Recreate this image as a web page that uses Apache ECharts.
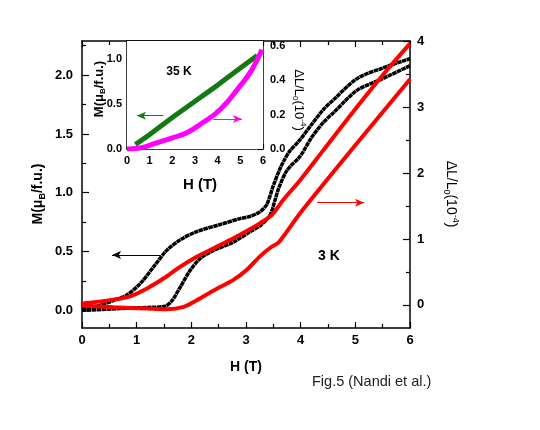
<!DOCTYPE html>
<html>
<head>
<meta charset="utf-8">
<script src="https://cdn.jsdelivr.net/npm/echarts@6.0.0/dist/echarts.min.js"></script>
<style>html,body{margin:0;padding:0;background:#fff}#chart{width:540px;height:430px}</style>
</head>
<body>
<div id="chart"></div>
<script>
// main panel, 3 K : magnetisation (left axis) and magnetostriction (right axis)
var blackDown = [[0,0.015],[0.3,0.04],[0.58,0.085],[0.82,0.13],[1.07,0.23],[1.31,0.37],[1.55,0.51],[1.8,0.6],[2.1,0.67],[2.53,0.73],[2.89,0.78],[3.08,0.8],[3.26,0.84],[3.38,0.9],[3.5,1.06],[3.6,1.18],[3.69,1.27],[3.81,1.36],[3.97,1.44],[4.2,1.58],[4.42,1.71],[4.6,1.79],[5.03,1.97],[5.5,2.06],[6,2.14]];
var blackUp = [[0,0.0],[0.5,0.01],[0.88,0.02],[1.2,0.025],[1.52,0.035],[1.65,0.085],[1.8,0.2],[1.98,0.34],[2.16,0.44],[2.41,0.51],[2.77,0.58],[3.08,0.67],[3.26,0.72],[3.44,0.81],[3.52,0.92],[3.6,1.04],[3.75,1.19],[3.99,1.31],[4.2,1.47],[4.42,1.6],[4.6,1.68],[5.03,1.87],[5.5,1.97],[6,2.08]];
var redDown = [[0,0.02],[0.58,0.08],[0.88,0.13],[1.19,0.25],[1.49,0.4],[1.8,0.58],[2.1,0.73],[2.41,0.86],[2.77,1.01],[3.08,1.15],[3.26,1.24],[3.47,1.36],[3.69,1.6],[3.99,1.89],[4.42,2.35],[5.03,3.0],[5.58,3.56],[6,3.96]];
var redUp = [[0,-0.01],[0.58,-0.035],[1.19,-0.055],[1.55,-0.065],[1.86,-0.03],[2.1,0.07],[2.41,0.22],[2.77,0.38],[3.0,0.52],[3.26,0.74],[3.45,0.87],[3.6,0.95],[3.99,1.39],[5.03,2.45],[6,3.42]];
// inset, 35 K
var greenM = [[0.37,0.05],[1,0.16],[2,0.35],[3,0.53],[4,0.71],[5,0.9],[5.75,1.04]];
var magentaL = [[0,0.0],[0.5,0.004],[1.17,0.03],[2,0.065],[2.64,0.095],[3.3,0.15],[4.11,0.23],[5,0.37],[5.5,0.46],[5.95,0.58]];

// tick labels
var mTicks = [0, 0.5, 1.0, 1.5, 2.0];
var mMinor = [0.25, 0.75, 1.25, 1.75, 2.25];
var dlTicks = [0, 1, 2, 3, 4];
var dlMinor = [0.5, 1.5, 2.5, 3.5];
var insMTicks = [0, 0.5, 1.0];
var insMMinor = [0, 0.25, 0.5, 0.75, 1.0];
var insLTicks = [0, 0.2, 0.4, 0.6];
var insLMinor = [0, 0.1, 0.2, 0.3, 0.4, 0.5, 0.6];

// arrows (data coords)
var arrowBlack = [[1.43,0.47],[0.55,0.47]];
var arrowRed = [[4.3,1.55],[5.16,1.55]];
var arrowGreen = [[1.6,0.37],[0.44,0.37]];
var arrowMagenta = [[3.8,0.175],[5.07,0.175]];

var FONT = 'Liberation Sans, Arial, sans-serif';

function xAx(g, pos, labels, fs, tl){
    return {
        gridIndex: g, type: 'value', position: pos, min: 0, max: 6, interval: 1,
        axisLine: {show: true, onZero: false, lineStyle: {color: '#000', width: 1.5}},
        axisTick: {show: true, inside: true, length: tl, lineStyle: {color: '#000', width: 1.2}},
        minorTick: {show: true, splitNumber: 2, length: tl - 2, lineStyle: {color: '#000', width: 1.2}},
        axisLabel: {show: labels, color: '#000', fontFamily: FONT, fontWeight: 'bold', fontSize: fs, margin: 6},
        splitLine: {show: false}
    };
}
function yAx(g, pos, mn, mx, labs, ticks, fs, tl, showLine, dec, margin){
    return {
        gridIndex: g, type: 'value', position: pos, min: mn, max: mx,
        axisLine: {show: showLine, onZero: false, lineStyle: {color: '#000', width: 1.5}},
        axisTick: {show: true, inside: true, length: tl, customValues: ticks, lineStyle: {color: '#000', width: 1.2}},
        axisLabel: {show: labs != null, customValues: labs || [], color: '#000', fontFamily: FONT, fontWeight: 'bold', fontSize: fs, margin: margin,
            formatter: function(v){ return v.toFixed(dec); }},
        splitLine: {show: false}
    };
}
function arrow(pts, color){
    return {
        silent: true, animation: false, symbol: ['none', 'arrow'], symbolSize: [6, 9],
        lineStyle: {color: color, width: 1, type: 'solid'}, label: {show: false},
        data: [[{coord: pts[0]}, {coord: pts[1]}]]
    };
}

var chart = echarts.init(document.getElementById('chart'));
var option = {
    animation: false,
    backgroundColor: '#fff',
    grid: [
        {left: 82, right: 130, top: 41, bottom: 102},
        {left: 127, right: 277, top: 41, bottom: 281, show: true, backgroundColor: '#fff', borderWidth: 0, z: 3}
    ],
    xAxis: [
        xAx(0, 'bottom', true, 13, 6),
        xAx(0, 'top', false, 13, 6),
        xAx(1, 'bottom', true, 11, 5),
        xAx(1, 'top', false, 11, 5)
    ],
    yAxis: [
        yAx(0, 'left', -0.15, 2.29, mTicks, mTicks, 13, 7, true, 1, 9),
        yAx(0, 'right', -0.35, 4, dlTicks, dlTicks, 13, 7, true, 0, 7),
        yAx(0, 'left', -0.15, 2.29, null, mMinor, 13, 4, false, 1, 9),
        yAx(0, 'right', -0.35, 4, null, dlMinor, 13, 4, false, 0, 7),
        yAx(1, 'left', 0, 1.2, insMTicks, insMMinor, 11, 5, true, 1, 5),
        yAx(1, 'right', 0, 0.63, insLTicks, insLMinor, 11, 5, true, 1, 7)
    ],
    series: [
        {type: 'line', name: 'M down', xAxisIndex: 0, yAxisIndex: 0, data: blackDown, smooth: 0.3, showSymbol: false,
            lineStyle: {color: '#000', width: 3.5, type: [4.5, 0.5]}, markLine: arrow(arrowBlack, '#000')},
        {type: 'line', name: 'M up', xAxisIndex: 0, yAxisIndex: 0, data: blackUp, smooth: 0.3, showSymbol: false,
            lineStyle: {color: '#000', width: 3.5, type: [4.5, 0.5]}},
        {type: 'line', name: 'dL down', xAxisIndex: 0, yAxisIndex: 1, data: redDown, smooth: 0.3, showSymbol: false,
            lineStyle: {color: '#ff0000', width: 4}, markLine: arrow(arrowRed, '#ff0000')},
        {type: 'line', name: 'dL up', xAxisIndex: 0, yAxisIndex: 1, data: redUp, smooth: 0.3, showSymbol: false,
            lineStyle: {color: '#ff0000', width: 4}},
        {type: 'line', name: 'M 35K', xAxisIndex: 2, yAxisIndex: 4, data: greenM, showSymbol: false, z: 5,
            lineStyle: {color: '#137a13', width: 5}, markLine: arrow(arrowGreen, '#137a13')},
        {type: 'line', name: 'dL 35K', xAxisIndex: 2, yAxisIndex: 5, data: magentaL, smooth: 0.5, showSymbol: false, z: 5,
            lineStyle: {color: '#ff00ff', width: 5}, markLine: arrow(arrowMagenta, '#ff00ff')}
    ],
    graphic: [
        {type: 'text', x: 246, y: 367, style: {text: 'H (T)', fontFamily: FONT, fontWeight: 'bold', fontSize: 14, fill: '#000', align: 'center', verticalAlign: 'middle'}},
        {type: 'text', x: 38, y: 194, rotation: Math.PI / 2, style: {text: 'M(μ{s|B}/f.u.)', fontFamily: FONT, fontWeight: 'bold', fontSize: 14, fill: '#000', align: 'center', verticalAlign: 'middle',
            rich: {s: {fontFamily: FONT, fontWeight: 'bold', fontSize: 9, padding: [9, 0, 0, 0]}}}},
        {type: 'text', x: 451, y: 194, rotation: -Math.PI / 2, style: {text: 'ΔL/L{s|0}(10{p|-4})', fontFamily: FONT, fontSize: 14, fill: '#000', align: 'center', verticalAlign: 'middle',
            rich: {s: {fontFamily: FONT, fontSize: 9, padding: [9, 0, 0, 0]}, p: {fontFamily: FONT, fontSize: 9, padding: [0, 0, 9, 0]}}}},
        {type: 'text', x: 200, y: 185, z: 10, style: {text: 'H (T)', fontFamily: FONT, fontWeight: 'bold', fontSize: 15, fill: '#000', align: 'center', verticalAlign: 'middle'}},
        {type: 'text', x: 99, y: 89, z: 10, rotation: Math.PI / 2, style: {text: 'M(μ{s|B}/f.u.)', fontFamily: FONT, fontWeight: 'bold', fontSize: 13, fill: '#000', align: 'center', verticalAlign: 'middle',
            rich: {s: {fontFamily: FONT, fontWeight: 'bold', fontSize: 8, padding: [8, 0, 0, 0]}}}},
        {type: 'text', x: 299, y: 100, z: 10, rotation: -Math.PI / 2, style: {text: 'ΔL/L{s|0}(10{p|-4})', fontFamily: FONT, fontSize: 13, fill: '#000', align: 'center', verticalAlign: 'middle',
            rich: {s: {fontFamily: FONT, fontSize: 8, padding: [8, 0, 0, 0]}, p: {fontFamily: FONT, fontSize: 8, padding: [0, 0, 8, 0]}}}},
        {type: 'text', x: 179, y: 72, z: 10, style: {text: '35 K', fontFamily: FONT, fontWeight: 'bold', fontSize: 12, fill: '#000', align: 'center', verticalAlign: 'middle'}},
        {type: 'text', x: 329, y: 256, style: {text: '3 K', fontFamily: FONT, fontWeight: 'bold', fontSize: 14, fill: '#000', align: 'center', verticalAlign: 'middle'}},
        {type: 'text', x: 312, y: 382, style: {text: 'Fig.5 (Nandi et al.)', fontFamily: FONT, fontSize: 14.5, fill: '#222', align: 'left', verticalAlign: 'middle'}}
    ]
};
chart.setOption(option);
</script>
</body>
</html>
